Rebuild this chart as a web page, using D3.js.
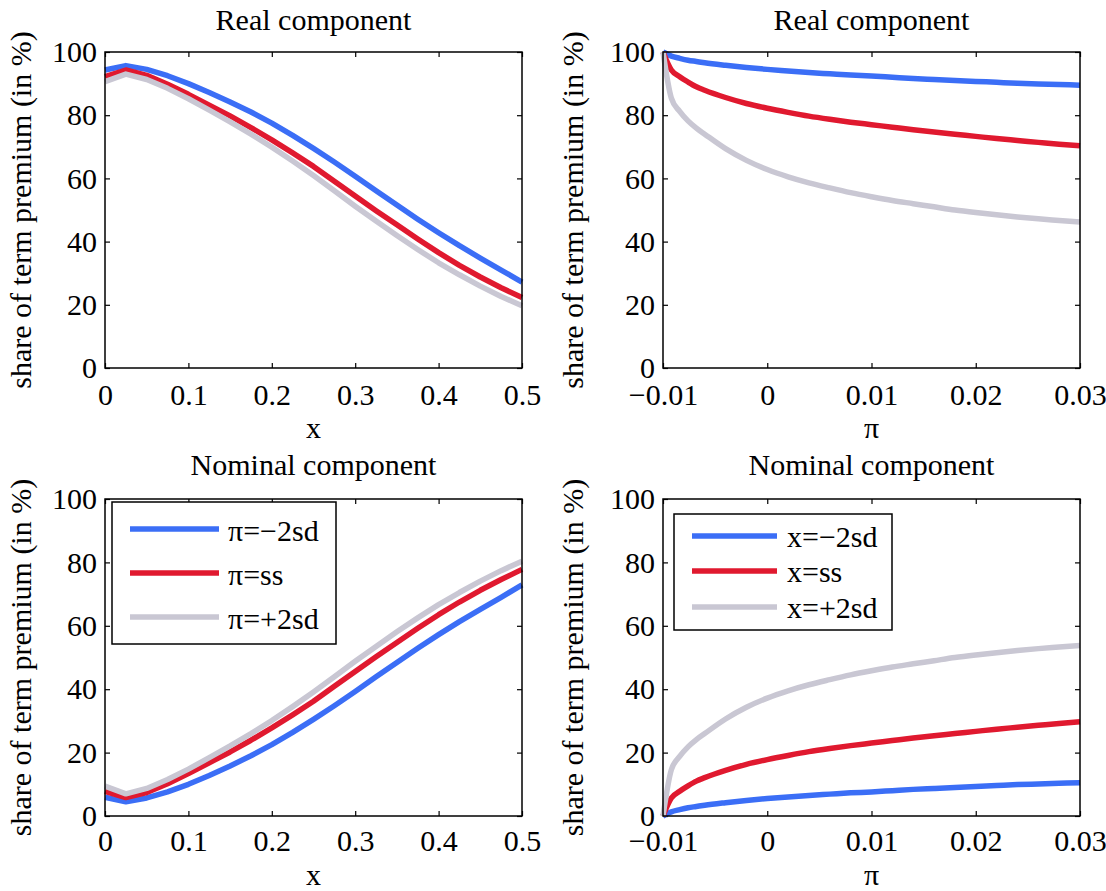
<!DOCTYPE html>
<html>
<head>
<meta charset="utf-8">
<script src="https://cdn.jsdelivr.net/npm/d3@7"></script>
<style>
  body { margin: 0; background: #fff; }
  text { font-family: "Liberation Serif", "Times New Roman", serif; fill: #000; }
</style>
</head>
<body>
<svg id="chart" width="1106" height="891"></svg>
<script>
// x grid (left panels)
var xGrid = [0, 0.025, 0.05, 0.075, 0.1, 0.125, 0.15, 0.175, 0.2, 0.225, 0.25,
             0.275, 0.3, 0.325, 0.35, 0.375, 0.4, 0.425, 0.45, 0.475, 0.5];

// real component, by pi level
var realPiLow  = [94.3, 95.7, 94.5, 92.5, 90.0, 87.2, 84.2, 81.0, 77.5, 73.6, 69.5,
                  65.2, 60.7, 56.1, 51.6, 47.1, 42.8, 38.7, 34.8, 31.0, 27.2];
var realPiSS   = [92.2, 94.3, 92.6, 89.8, 86.6, 83.2, 79.8, 76.1, 72.2, 68.1, 63.8,
                  59.1, 54.4, 49.8, 45.3, 40.8, 36.5, 32.5, 28.8, 25.4, 22.3];
var realPiHigh = [90.6, 93.0, 91.3, 88.5, 85.2, 81.6, 77.9, 74.0, 69.9, 65.5, 60.9,
                  56.1, 51.2, 46.5, 41.9, 37.5, 33.3, 29.5, 25.9, 22.6, 19.7];

// nominal component, by pi level
var nomPiLow  = [5.9, 4.5, 5.7, 7.6, 10.0, 12.8, 15.8, 19.0, 22.5, 26.4, 30.5,
                 34.8, 39.3, 43.9, 48.4, 52.9, 57.2, 61.3, 65.2, 69.0, 72.9];
var nomPiSS   = [7.8, 5.8, 7.4, 10.2, 13.4, 16.8, 20.2, 23.9, 27.8, 31.9, 36.2,
                 40.9, 45.6, 50.2, 54.7, 59.2, 63.5, 67.5, 71.2, 74.6, 77.8];
var nomPiHigh = [9.4, 7.0, 8.7, 11.5, 14.8, 18.4, 22.1, 26.0, 30.1, 34.5, 39.1,
                 43.9, 48.8, 53.5, 58.1, 62.5, 66.7, 70.5, 74.1, 77.4, 80.4];

// pi grid (right panels)
var piGrid = [-0.01, -0.0092, -0.0084, -0.0076, -0.0068, -0.006, -0.004, -0.002, 0,
              0.002, 0.004, 0.006, 0.008, 0.01, 0.012, 0.014, 0.016, 0.018, 0.02,
              0.022, 0.024, 0.026, 0.028, 0.03];

// real component, by x level
var realXLow  = [100, 98.7, 98.0, 97.4, 97.0, 96.6, 95.8, 95.1, 94.5, 94.0, 93.5, 93.1,
                 92.7, 92.4, 92.0, 91.6, 91.3, 91.0, 90.7, 90.4, 90.1, 89.9, 89.7, 89.5];
var realXSS   = [100, 94.3, 92.2, 90.5, 89.0, 87.9, 85.6, 83.7, 82.2, 80.9, 79.7, 78.7,
                 77.8, 77.0, 76.2, 75.4, 74.7, 74.0, 73.3, 72.6, 72.0, 71.4, 70.8, 70.3];
var realXHigh = [100, 85.4, 81.2, 78.2, 75.9, 74.0, 69.4, 65.7, 62.8, 60.5, 58.6, 57.0,
                 55.5, 54.2, 53.0, 52.0, 51.0, 50.0, 49.2, 48.5, 47.8, 47.2, 46.7, 46.2];

// nominal component, by x level
var nomXLow  = [0, 1.3, 2.0, 2.6, 3.0, 3.4, 4.2, 4.9, 5.5, 6.0, 6.5, 6.9,
                7.3, 7.6, 8.0, 8.4, 8.7, 9.0, 9.3, 9.6, 9.9, 10.1, 10.3, 10.5];
var nomXSS   = [0, 5.7, 7.8, 9.5, 11.0, 12.1, 14.4, 16.3, 17.8, 19.1, 20.3, 21.3,
                22.2, 23.0, 23.8, 24.6, 25.3, 26.0, 26.7, 27.4, 28.0, 28.6, 29.2, 29.7];
var nomXHigh = [0, 14.6, 18.8, 21.8, 24.1, 26.0, 30.6, 34.3, 37.2, 39.5, 41.4, 43.0,
                44.5, 45.8, 47.0, 48.0, 49.0, 50.0, 50.8, 51.5, 52.2, 52.8, 53.3, 53.8];

var yTicks = [0, 20, 40, 60, 80, 100];
var xTicksLeft = [0, 0.1, 0.2, 0.3, 0.4, 0.5];
var xTicksRight = [-0.01, 0, 0.01, 0.02, 0.03];
var piLegend = ["\u03c0=\u22122sd", "\u03c0=ss", "\u03c0=+2sd"];
var xLegend = ["x=\u22122sd", "x=ss", "x=+2sd"];

var colors = ["#3b6ef6", "#e0192f", "#c9c7d3"];
var fontSize = 30;
var fontFamily = '"Liberation Serif", "Times New Roman", serif';

var svg = d3.select("#chart");

function fmt(v) {
  return String(v).replace("-", "\u2212");
}

function drawPanel(p) {
  var w = p.right - p.left, h = p.bottom - p.top;
  var g = svg.append("g").attr("transform", "translate(" + p.left + "," + p.top + ")");

  var x = d3.scaleLinear().domain(p.xDomain).range([0, w]);
  var y = d3.scaleLinear().domain([0, 100]).range([h, 0]);

  // axes, ticks pointing inward on all four sides
  g.append("g").attr("transform", "translate(0," + h + ")")
    .call(d3.axisBottom(x).tickValues(p.xTicks).tickFormat(fmt)
      .tickSizeInner(-5).tickSizeOuter(0).tickPadding(p.xPad))
    .call(function(a) { a.select(".domain").remove(); });
  g.append("g")
    .call(d3.axisTop(x).tickValues(p.xTicks).tickFormat("")
      .tickSizeInner(-5).tickSizeOuter(0))
    .call(function(a) { a.select(".domain").remove(); });
  g.append("g")
    .call(d3.axisLeft(y).tickValues(yTicks)
      .tickSizeInner(-5).tickSizeOuter(0).tickPadding(8))
    .call(function(a) { a.select(".domain").remove(); });
  g.append("g").attr("transform", "translate(" + w + ",0)")
    .call(d3.axisRight(y).tickValues(yTicks).tickFormat("")
      .tickSizeInner(-5).tickSizeOuter(0))
    .call(function(a) { a.select(".domain").remove(); });

  g.selectAll(".tick line").attr("stroke", "#000").attr("stroke-width", 1.2);
  g.selectAll(".tick text")
    .style("font-family", fontFamily)
    .style("font-size", fontSize + "px")
    .attr("fill", "#000");

  // lines
  var line = d3.line()
    .x(function(d) { return x(d[0]); })
    .y(function(d) { return y(d[1]); })
    .curve(p.curve);

  p.series.forEach(function(s, i) {
    g.append("path")
      .datum(p.xs.map(function(v, j) { return [v, s[j]]; }))
      .attr("fill", "none")
      .attr("stroke", colors[i])
      .attr("stroke-width", 5.5)
      .attr("stroke-linejoin", "round")
      .attr("d", line);
  });

  // box
  g.append("rect")
    .attr("width", w).attr("height", h)
    .attr("fill", "none").attr("stroke", "#000").attr("stroke-width", 1.5);

  // title
  g.append("text")
    .attr("x", w / 2).attr("y", p.titleY - p.top)
    .attr("text-anchor", "middle")
    .style("font-size", fontSize + "px")
    .text(p.title);

  // x label
  g.append("text")
    .attr("x", w / 2).attr("y", p.xLabelY - p.top)
    .attr("text-anchor", "middle")
    .style("font-size", fontSize + "px")
    .text(p.xLabel);

  // y label
  g.append("text")
    .attr("transform", "translate(" + (-p.yLabelOff) + "," + (h / 2) + ") rotate(-90)")
    .attr("text-anchor", "middle")
    .style("font-size", fontSize + "px")
    .text("share of term premium (in %)");

  // legend
  if (p.legend) {
    var L = p.legend;
    var lg = svg.append("g");
    lg.append("rect")
      .attr("x", L.x0).attr("y", L.y0)
      .attr("width", L.x1 - L.x0).attr("height", L.y1 - L.y0)
      .attr("fill", "#fff").attr("stroke", "#000").attr("stroke-width", 1.5);
    L.labels.forEach(function(lab, i) {
      var ry = L.rows[i];
      lg.append("line")
        .attr("x1", L.lx0).attr("x2", L.lx1)
        .attr("y1", ry).attr("y2", ry)
        .attr("stroke", colors[i]).attr("stroke-width", 5.5);
      lg.append("text")
        .attr("x", L.tx).attr("y", ry + L.dy)
        .style("font-size", fontSize + "px")
        .text(lab);
    });
  }
}

drawPanel({
  left: 105, right: 522, top: 52, bottom: 368,
  xDomain: [0, 0.5], xTicks: xTicksLeft, xs: xGrid, xPad: 16,
  series: [realPiLow, realPiSS, realPiHigh], curve: d3.curveLinear,
  title: "Real component", titleY: 30, xLabel: "x", xLabelY: 438, yLabelOff: 74
});
drawPanel({
  left: 663, right: 1080, top: 52, bottom: 368,
  xDomain: [-0.01, 0.03], xTicks: xTicksRight, xs: piGrid, xPad: 16,
  series: [realXLow, realXSS, realXHigh], curve: d3.curveMonotoneX,
  title: "Real component", titleY: 30, xLabel: "\u03c0", xLabelY: 438, yLabelOff: 80
});
drawPanel({
  left: 105, right: 522, top: 499, bottom: 816,
  xDomain: [0, 0.5], xTicks: xTicksLeft, xs: xGrid, xPad: 14,
  series: [nomPiLow, nomPiSS, nomPiHigh], curve: d3.curveLinear,
  title: "Nominal component", titleY: 475, xLabel: "x", xLabelY: 885, yLabelOff: 74,
  legend: { x0: 112, x1: 336, y0: 502, y1: 644, lx0: 130, lx1: 219, tx: 228,
            rows: [529, 573, 617], dy: 12, labels: piLegend }
});
drawPanel({
  left: 663, right: 1080, top: 499, bottom: 816,
  xDomain: [-0.01, 0.03], xTicks: xTicksRight, xs: piGrid, xPad: 14,
  series: [nomXLow, nomXSS, nomXHigh], curve: d3.curveMonotoneX,
  title: "Nominal component", titleY: 475, xLabel: "\u03c0", xLabelY: 885, yLabelOff: 80,
  legend: { x0: 674, x1: 892, y0: 514, y1: 630, lx0: 692, lx1: 777, tx: 787,
            rows: [536, 571, 607], dy: 11, labels: xLegend }
});
</script>
</body>
</html>
